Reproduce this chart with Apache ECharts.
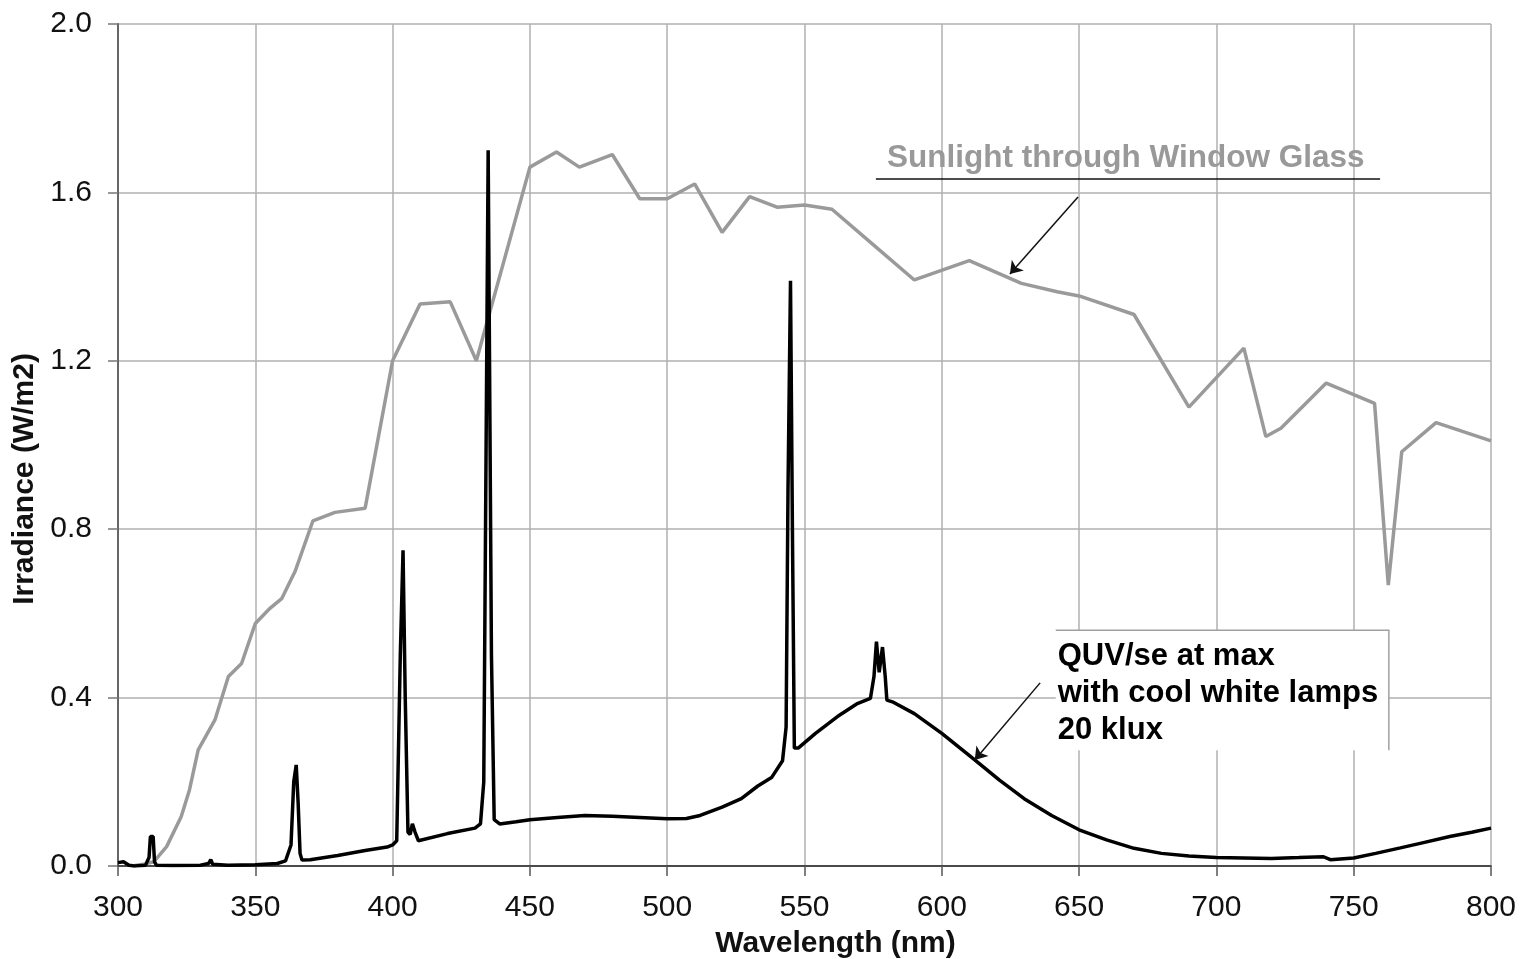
<!DOCTYPE html>
<html>
<head>
<meta charset="utf-8">
<script src="https://cdn.jsdelivr.net/npm/echarts@6/dist/echarts.min.js"></script>
<style>
  html, body { margin: 0; padding: 0; background: #fff; }
  #main { width: 1521px; height: 959px; }
</style>
</head>
<body>
<div id="main"></div>
<script>
// 窗玻璃透射日光 (nm, W/m2)
var sunWave = [305, 310, 313, 317.7, 323, 326, 329.2, 335.3, 340.2, 345, 350, 355, 359.6, 364.5, 371, 379, 390, 400,
  410, 421, 430.5, 450, 459.7, 468, 480, 490, 500, 510, 520, 530, 540, 550, 560, 575, 590, 610, 629, 642, 650,
  670, 690, 710, 718, 723.5, 740, 757.6, 762.6, 767.5, 780, 800];
var sunVal = [0, 0.005, 0.01, 0.046, 0.117, 0.18, 0.276, 0.347, 0.45, 0.481, 0.576, 0.61, 0.635, 0.70, 0.82, 0.84, 0.85, 1.2,
  1.335, 1.34, 1.2, 1.66, 1.696, 1.66, 1.69, 1.585, 1.585, 1.62, 1.505, 1.59, 1.565, 1.57, 1.56, 1.476, 1.392, 1.438, 1.384, 1.364, 1.354,
  1.31, 1.09, 1.23, 1.02, 1.04, 1.147, 1.099, 0.667, 0.984, 1.053, 1.01];

// QUV/se 冷白灯
var quvWave = [300, 302, 304, 306, 310, 311.3, 311.8, 312.8, 313.3, 314, 320, 330, 333, 333.8, 334.5, 340, 350, 358, 361, 363,
  364, 364.9, 365.6, 366.3, 367, 370, 380, 390, 398, 400, 401.5, 402.8, 403.8, 404.6, 405.6, 406.4, 407.2, 408.2, 409.4,
  420, 430, 432, 433.2, 434.8, 436, 437, 439, 445, 450, 460, 470, 480, 490, 500, 507, 512, 520, 527, 533, 538, 542,
  543.3, 544, 544.9, 545.6, 546.3, 547.7, 554, 562, 569, 574, 575.3, 576.2, 577.2, 578.4, 579.4, 580, 582, 590, 600,
  612, 621, 630, 640, 650, 660, 670, 680, 690, 700, 710, 720, 730, 739, 741.5, 750, 758, 767, 775, 785, 793, 800];
var quvVal = [0.008, 0.01, 0.002, 0, 0.002, 0.02, 0.07, 0.07, 0.01, 0.002, 0.001, 0.002, 0.006, 0.015, 0.004, 0.002, 0.003, 0.006, 0.012, 0.05,
  0.2, 0.24, 0.15, 0.03, 0.014, 0.015, 0.025, 0.037, 0.045, 0.05, 0.06, 0.5, 0.75, 0.4, 0.08, 0.075, 0.1, 0.08, 0.06,
  0.077, 0.09, 0.1, 0.2, 1.70, 0.5, 0.11, 0.1, 0.105, 0.11, 0.115, 0.12, 0.118, 0.115, 0.112, 0.113, 0.12, 0.14, 0.16, 0.19, 0.21, 0.25,
  0.33, 0.9, 1.39, 0.8, 0.28, 0.28, 0.315, 0.355, 0.385, 0.398, 0.45, 0.533, 0.46, 0.52, 0.45, 0.394, 0.39, 0.362, 0.315,
  0.252, 0.204, 0.16, 0.12, 0.086, 0.062, 0.042, 0.03, 0.024, 0.02, 0.019, 0.018, 0.02, 0.022, 0.015, 0.019, 0.03, 0.043, 0.055, 0.07, 0.08, 0.09];

var xTicks = [300, 350, 400, 450, 500, 550, 600, 650, 700, 750, 800];
var yTicks = [0, 0.4, 0.8, 1.2, 1.6, 2.0];

// 标注 (数据坐标)
var sunLabel = 'Sunlight through Window Glass';
var sunLabelAt = [667, 1.68];
var sunUnderline = [[576, 1.632], [759.6, 1.632]];
var sunArrow = [[649.6, 1.589], [624.8, 1.406]];
var quvLines = ['QUV/se at max', 'with cool white lamps', '20 klux'];
var quvBox = [[641.5, 0.56], [762.8, 0.275]];
var quvArrow = [[635.8, 0.435], [612, 0.252]];

function pairs(xs, ys) {
  var arr = [];
  for (var i = 0; i < xs.length; i++) {
    arr.push([xs[i], ys[i]]);
  }
  return arr;
}

var font = '"Liberation Sans", Arial, sans-serif';
var chart = echarts.init(document.getElementById('main'));
chart.setOption({
  animation: false,
  backgroundColor: '#fff',
  grid: { left: 118, right: 30, top: 24, bottom: 93, outerBoundsMode: 'none', containLabel: false },
  xAxis: {
    type: 'value',
    min: xTicks[0],
    max: xTicks[xTicks.length - 1],
    interval: 50,
    name: 'Wavelength (nm)',
    nameLocation: 'middle',
    nameGap: 63,
    // Excel 把标题略往右放
    nameTextStyle: { fontFamily: font, fontSize: 30, fontWeight: 'bold', color: '#111', padding: [0, 0, 0, 62] },
    axisLine: { lineStyle: { color: '#222', width: 1.5 } },
    axisTick: { show: true, length: 10, lineStyle: { color: '#555', width: 1.5 } },
    axisLabel: { fontFamily: font, fontSize: 30, color: '#111', margin: 27 },
    splitLine: { show: true, lineStyle: { color: '#b0b0b0', width: 1.5 } }
  },
  yAxis: {
    type: 'value',
    min: yTicks[0],
    max: yTicks[yTicks.length - 1],
    interval: 0.4,
    name: 'Irradiance (W/m2)',
    nameLocation: 'middle',
    nameGap: 74,
    nameTextStyle: { fontFamily: font, fontSize: 30, fontWeight: 'bold', color: '#111', padding: [0, 68, 0, 0] },
    axisLine: { show: true, lineStyle: { color: '#666', width: 2 } },
    axisTick: { show: true, length: 10, lineStyle: { color: '#777', width: 1.5 } },
    axisLabel: { fontFamily: font, fontSize: 30, color: '#111', margin: 26,
      formatter: function (v) { return v.toFixed(1); } },
    splitLine: { show: true, lineStyle: { color: '#b0b0b0', width: 1.5 } }
  },
  series: [
    {
      name: 'Sunlight through Window Glass',
      type: 'line',
      data: pairs(sunWave, sunVal),
      showSymbol: false,
      lineStyle: { color: '#9a9a9a', width: 3.5 },
      z: 3,
      markLine: {
        silent: true,
        symbol: ['none', 'none'],
        label: { show: false },
        lineStyle: { color: '#111', width: 1.5, type: 'solid' },
        data: [
          [{ coord: sunUnderline[0] }, { coord: sunUnderline[1] }],
          [{ coord: sunArrow[0], symbol: 'none' }, { coord: sunArrow[1], symbol: 'arrow', symbolSize: 12 }]
        ]
      }
    },
    {
      name: 'QUV/se',
      type: 'line',
      data: pairs(quvWave, quvVal),
      showSymbol: false,
      lineStyle: { color: '#000', width: 3.5 },
      z: 4,
      markLine: {
        silent: true,
        symbol: ['none', 'none'],
        label: { show: false },
        lineStyle: { color: '#111', width: 1.5, type: 'solid' },
        data: [
          [{ coord: quvArrow[0], symbol: 'none' }, { coord: quvArrow[1], symbol: 'arrow', symbolSize: 12 }]
        ]
      }
    }
  ]
});

// 文字标注用像素位置
var p1 = chart.convertToPixel('grid', quvBox[0]);
var p2 = chart.convertToPixel('grid', quvBox[1]);
var pt = chart.convertToPixel('grid', sunLabelAt);
var quvText = [];
for (var i = 0; i < quvLines.length; i++) {
  quvText.push({
    type: 'text', z: 11,
    x: p1[0] + 2, y: p1[1] + 26 + i * 37,
    style: { text: quvLines[i], font: 'bold 31px ' + font, fill: '#000', textVerticalAlign: 'middle' }
  });
}
chart.setOption({
  graphic: [
    { type: 'rect', z: 1, shape: { x: p1[0], y: p1[1], width: p2[0] - p1[0], height: p2[1] - p1[1] },
      style: { fill: '#fff' } },
    { type: 'polyline', z: 2, shape: { points: [[p1[0], p1[1]], [p2[0], p1[1]], [p2[0], p2[1]]] },
      style: { stroke: '#a0a0a0', lineWidth: 1.5, fill: null } },
    { type: 'text', z: 11, x: pt[0], y: pt[1],
      style: { text: sunLabel, font: 'bold 31.5px ' + font, fill: '#999', textAlign: 'center', textVerticalAlign: 'middle' } }
  ].concat(quvText)
});
</script>
</body>
</html>
